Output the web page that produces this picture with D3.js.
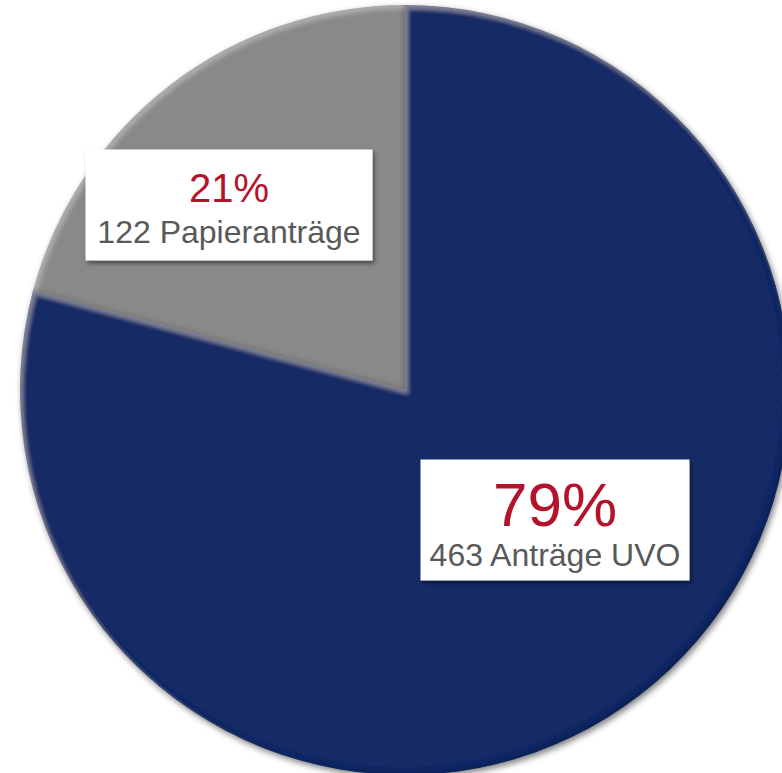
<!DOCTYPE html>
<html>
<head>
<meta charset="utf-8">
<script src="https://cdn.jsdelivr.net/npm/d3@7/dist/d3.min.js"></script>
<style>
  html, body { margin: 0; padding: 0; background: #fff; }
  svg { display: block; }
  text { font-family: Arial, "Liberation Sans", sans-serif; }
</style>
</head>
<body>
<div id="chart"></div>
<script>
// Data
const categories = ['Anträge UVO', 'Papieranträge'];
const counts = [463, 122];
const colors = ['#142c66', '#898989'];

const width = 782, height = 773;
const cx = 405, cy = 390, radius = 385;

// label boxes (layout only): box center relative to pie center, box size,
// font sizes and text baselines relative to box center
const labelLayout = [
    { dx: 150, dy: 130, w: 269, h: 121, big: 62, small: 32, bigY: 6, smallY: 46 },
    { dx: -176, dy: -185, w: 287, h: 111, big: 40, small: 32, bigY: -3, smallY: 38 }
];

const total = d3.sum(counts);
const data = categories.map((c, i) => ({ name: c, count: counts[i], pct: Math.round(counts[i] / total * 100) }));

const svg = d3.select('#chart').append('svg')
    .attr('width', width)
    .attr('height', height);

const defs = svg.append('defs');

// soft drop shadow for the whole pie
const shadow = defs.append('filter').attr('id', 'pieShadow')
    .attr('x', '-10%').attr('y', '-10%').attr('width', '120%').attr('height', '120%');
shadow.append('feGaussianBlur').attr('in', 'SourceAlpha').attr('stdDeviation', 3).attr('result', 'blur');
shadow.append('feOffset').attr('in', 'blur').attr('dx', 2).attr('dy', 3).attr('result', 'off');
shadow.append('feFlood').attr('flood-color', '#000').attr('flood-opacity', 0.5);
shadow.append('feComposite').attr('in2', 'off').attr('operator', 'in').attr('result', 'sh');
const sm = shadow.append('feMerge');
sm.append('feMergeNode').attr('in', 'sh');
sm.append('feMergeNode').attr('in', 'SourceGraphic');

// bevel on each slice: light top-left rim, dark bottom-right rim
const bevel = defs.append('filter').attr('id', 'bevel')
    .attr('x', '-5%').attr('y', '-5%').attr('width', '110%').attr('height', '110%');
bevel.append('feGaussianBlur').attr('in', 'SourceAlpha').attr('stdDeviation', 2).attr('result', 'b');
bevel.append('feOffset').attr('in', 'b').attr('dx', 3).attr('dy', 4).attr('result', 'bo1');
bevel.append('feComposite').attr('in', 'SourceAlpha').attr('in2', 'bo1')
    .attr('operator', 'arithmetic').attr('k2', 1).attr('k3', -1).attr('result', 'hlMask');
bevel.append('feFlood').attr('flood-color', '#fff').attr('flood-opacity', 0.22);
bevel.append('feComposite').attr('in2', 'hlMask').attr('operator', 'in').attr('result', 'hl');
bevel.append('feOffset').attr('in', 'b').attr('dx', -3).attr('dy', -3).attr('result', 'bo2');
bevel.append('feComposite').attr('in', 'SourceAlpha').attr('in2', 'bo2')
    .attr('operator', 'arithmetic').attr('k2', 1).attr('k3', -1).attr('result', 'shMask');
bevel.append('feFlood').attr('flood-color', '#000').attr('flood-opacity', 0.3);
bevel.append('feComposite').attr('in2', 'shMask').attr('operator', 'in').attr('result', 'dk');
const bm = bevel.append('feMerge');
bm.append('feMergeNode').attr('in', 'SourceGraphic');
bm.append('feMergeNode').attr('in', 'hl');
bm.append('feMergeNode').attr('in', 'dk');

// box shadow for labels
const boxShadow = defs.append('filter').attr('id', 'boxShadow')
    .attr('x', '-10%').attr('y', '-10%').attr('width', '125%').attr('height', '130%');
boxShadow.append('feGaussianBlur').attr('in', 'SourceAlpha').attr('stdDeviation', 2).attr('result', 'blur');
boxShadow.append('feOffset').attr('in', 'blur').attr('dx', 2).attr('dy', 3).attr('result', 'off');
boxShadow.append('feFlood').attr('flood-color', '#000').attr('flood-opacity', 0.45);
boxShadow.append('feComposite').attr('in2', 'off').attr('operator', 'in').attr('result', 'sh');
const bsm = boxShadow.append('feMerge');
bsm.append('feMergeNode').attr('in', 'sh');
bsm.append('feMergeNode').attr('in', 'SourceGraphic');

const pie = d3.pie().sort(null).value(d => d.count);
const arc = d3.arc().innerRadius(0).outerRadius(radius);

const g = svg.append('g')
    .attr('transform', `translate(${cx},${cy})`);

const pieGroup = g.append('g').attr('filter', 'url(#pieShadow)');

pieGroup.selectAll('path.slice')
    .data(pie(data))
    .enter()
    .append('path')
    .attr('class', 'slice')
    .attr('d', arc)
    .attr('fill', (d, i) => colors[i])
    .attr('filter', 'url(#bevel)');

// labels
const labels = g.selectAll('g.label')
    .data(data)
    .enter()
    .append('g')
    .attr('class', 'label')
    .attr('transform', (d, i) => `translate(${labelLayout[i].dx},${labelLayout[i].dy})`);

labels.append('rect')
    .attr('x', (d, i) => -labelLayout[i].w / 2)
    .attr('y', (d, i) => -labelLayout[i].h / 2)
    .attr('width', (d, i) => labelLayout[i].w)
    .attr('height', (d, i) => labelLayout[i].h)
    .attr('fill', '#fff')
    .attr('filter', 'url(#boxShadow)');

labels.append('text')
    .attr('text-anchor', 'middle')
    .attr('y', (d, i) => labelLayout[i].bigY)
    .attr('fill', '#b5122b')
    .style('font-size', (d, i) => labelLayout[i].big + 'px')
    .text(d => d.pct + '%');

labels.append('text')
    .attr('text-anchor', 'middle')
    .attr('y', (d, i) => labelLayout[i].smallY)
    .attr('fill', '#595959')
    .style('font-size', (d, i) => labelLayout[i].small + 'px')
    .text(d => d.count + ' ' + d.name);
</script>
</body>
</html>
